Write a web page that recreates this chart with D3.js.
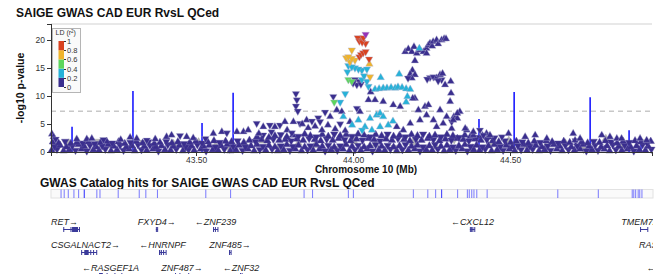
<!DOCTYPE html>
<head>
  <meta charset="utf-8" />
  <script src="https://d3js.org/d3.v7.min.js"></script>
  <style>
    body { margin: 0; background: #fff; }
    svg { font-family: "Liberation Sans", Arial, Helvetica, sans-serif; }
    .axis path, .axis line { stroke: #333; shape-rendering: crispEdges; }
    .axis text { fill: #333; font-size: 8.5px; }
    .legend-axis path { display: none; }
    .legend-axis text { font-size: 7.5px; fill: #333; }
    .gene-label { font-size: 9px; font-style: italic; fill: #222; }
  </style>
</head>
<body>
  <script>
    var width = 663, height = 274;

    // chromosome 10 window (Mb) and axis ticks
    var regionMb = [43.038, 44.952];
    var xTicks = [43.5, 44.0, 44.5];
    var yTicks = [0, 5, 10, 15, 20];
    var yMax = 22.86;
    var sigLine = 7.3; // -log10(5e-8)
    var ldBreaks = [0, 0.2, 0.4, 0.6, 0.8, 1];
    var ldColors = ["#3a2e8e", "#26b2d8", "#5cd65c", "#f0b42a", "#d9411e"];
    var leadPos = 44.040;

    // dense low-signal variants, r2 < 0.2 : [pos Mb, -log10 p, beta sign]
    var bandPts = [
      [43.040,0.3,1],[43.057,0.5,-1],[43.078,0.2,1],[43.096,0.4,1],[43.116,0.3,-1],[43.135,0.5,1],[43.152,0.2,-1],[43.173,0.4,1],[43.191,0.3,1],[43.211,0.5,-1],[43.229,0.2,1],[43.248,0.4,1],[43.269,0.3,-1],[43.287,0.5,1],[43.305,0.2,1],[43.326,0.4,-1],[43.343,0.3,1],[43.363,0.5,1],[43.380,0.2,-1],[43.401,0.4,1],[43.419,0.3,1],[43.437,0.5,-1],[43.458,0.2,1],[43.476,0.4,-1],[43.494,0.3,1],[43.515,0.5,1],[43.532,0.2,-1],[43.553,0.4,1],[43.570,0.3,1],[43.590,0.5,-1],[43.609,0.2,1],[43.627,0.4,1],[43.648,0.3,-1],[43.665,0.5,1],[43.685,0.2,1],[43.703,0.4,-1],[43.722,0.3,1],[43.742,0.5,-1],[43.760,0.2,1],[43.779,0.4,1],[43.799,0.3,-1],[43.816,0.5,1],[43.836,0.2,1],[43.855,0.4,-1],[43.873,0.3,1],[43.893,0.5,1],[43.911,0.2,-1],[43.930,0.4,1],[43.950,0.3,-1],[43.968,0.5,1],[43.988,0.2,1],[44.006,0.4,-1],[44.025,0.3,1],[44.045,0.5,1],[44.062,0.2,-1],[44.082,0.4,1],[44.101,0.3,1],[44.119,0.5,-1],[44.139,0.2,1],[44.157,0.4,-1],[44.176,0.3,1],[44.196,0.5,1],[44.213,0.2,-1],[44.233,0.4,1],[44.252,0.3,1],[44.270,0.5,-1],[44.290,0.2,1],[44.308,0.4,1],[44.327,0.3,-1],[44.347,0.5,1],[44.364,0.2,-1],[44.384,0.4,1],[44.403,0.3,1],[44.421,0.5,-1],[44.441,0.2,1],[44.459,0.4,1],[44.478,0.3,-1],[44.498,0.5,1],[44.515,0.2,1],[44.535,0.4,-1],[44.554,0.3,1],[44.572,0.5,-1],[44.592,0.2,1],[44.610,0.4,1],[44.629,0.3,-1],[44.649,0.5,1],[44.666,0.2,1],[44.686,0.4,-1],[44.705,0.3,1],[44.723,0.5,1],[44.743,0.2,-1],[44.761,0.4,1],[44.780,0.3,-1],[44.800,0.5,1],[44.817,0.2,1],[44.837,0.4,-1],[44.856,0.3,1],[44.874,0.5,1],[44.894,0.2,-1],[44.912,0.4,1],[44.931,0.3,1],[44.950,0.5,-1],
      [43.049,1.0,-1],[43.067,1.2,1],[43.087,0.9,1],[43.106,1.1,-1],[43.125,1.3,1],[43.144,1.0,1],[43.162,1.2,-1],[43.182,0.9,1],[43.201,1.1,-1],[43.220,1.3,1],[43.238,1.0,1],[43.258,1.2,-1],[43.278,0.9,1],[43.296,1.1,1],[43.315,1.3,-1],[43.335,1.0,1],[43.353,1.2,-1],[43.372,0.9,1],[43.390,1.1,1],[43.410,1.3,-1],[43.428,1.0,1],[43.447,1.2,1],[43.467,0.9,-1],[43.485,1.1,1],[43.504,1.3,-1],[43.524,1.0,1],[43.542,1.2,1],[43.562,0.9,-1],[43.580,1.1,1],[43.599,1.3,1],[43.618,1.0,-1],[43.637,1.2,1],[43.657,0.9,-1],[43.675,1.1,1],[43.694,1.3,1],[43.713,1.0,-1],[43.732,1.2,1],[43.751,0.9,1],[43.770,1.1,-1],[43.789,1.3,1],[43.808,1.0,-1],[43.826,1.2,1],[43.846,0.9,1],[43.864,1.1,-1],[43.883,1.3,1],[43.902,1.0,1],[43.921,1.2,-1],[43.940,0.9,1],[43.959,1.1,-1],[43.978,1.3,1],[43.997,1.0,1],[44.016,1.2,-1],[44.035,0.9,1],[44.054,1.1,1],[44.072,1.3,-1],[44.091,1.0,1],[44.110,1.2,-1],[44.129,0.9,1],[44.148,1.1,1],[44.167,1.3,-1],[44.186,1.0,1],[44.205,1.2,1],[44.223,0.9,-1],[44.243,1.1,1],[44.261,1.3,-1],[44.280,1.0,1],[44.299,1.2,1],[44.318,0.9,-1],[44.337,1.1,1],[44.356,1.3,1],[44.374,1.0,-1],[44.393,1.2,1],[44.412,0.9,-1],[44.431,1.1,1],[44.450,1.3,1],[44.469,1.0,-1],[44.488,1.2,1],[44.507,0.9,1],[44.525,1.1,-1],[44.544,1.3,1],[44.563,1.0,-1],[44.582,1.2,1],[44.601,0.9,1],[44.620,1.1,-1],[44.639,1.3,1],[44.658,1.0,1],[44.676,1.2,-1],[44.695,0.9,1],[44.714,1.1,-1],[44.733,1.3,1],[44.752,1.0,1],[44.771,1.2,-1],[44.790,0.9,1],[44.809,1.1,1],[44.827,1.3,-1],[44.846,1.0,1],[44.865,1.2,-1],[44.884,0.9,1],[44.903,1.1,1],[44.922,1.3,-1],[44.940,1.0,1],
      [43.044,1.8,1],[43.062,1.6,1],[43.083,1.9,-1],[43.101,1.5,1],[43.120,1.7,1],[43.139,1.6,-1],[43.157,1.8,1],[43.177,1.5,-1],[43.196,1.7,1],[43.215,1.9,1],[43.233,1.6,-1],[43.253,1.8,1],[43.273,1.5,1],[43.291,1.7,-1],[43.310,1.9,1],[43.330,1.6,1],[43.348,1.8,-1],[43.367,1.5,1],[43.385,1.7,1],[43.405,1.9,-1],[43.423,1.6,1],[43.442,1.8,1],[43.462,1.5,-1],[43.480,1.7,1],[43.499,1.9,1],[43.519,1.6,-1],[43.537,1.8,1],[43.557,2.0,1],[43.575,1.7,-1],[43.594,1.9,1],[43.613,1.8,1],[43.632,2.0,-1],[43.652,1.7,1],[43.670,2.1,1],[43.689,1.9,-1],[43.708,2.2,1],[43.727,2.0,1],[43.746,2.3,-1],[43.765,2.1,1],[43.784,2.2,1],[43.803,2.0,-1],[43.821,2.3,1],[43.841,2.1,1],[43.860,2.4,-1],[43.878,2.2,1],[43.897,2.0,1],[43.916,2.3,-1],[43.935,2.1,1],[43.954,2.4,1],[43.973,2.2,-1],[43.992,2.0,1],[44.011,2.3,1],[44.030,2.1,-1],[44.049,2.4,1],[44.067,2.2,1],[44.086,2.0,-1],[44.105,2.3,1],[44.124,2.1,1],[44.143,2.4,-1],[44.162,2.2,1],[44.181,2.0,1],[44.200,2.3,-1],[44.218,2.1,1],[44.238,2.4,1],[44.256,2.2,-1],[44.275,2.0,1],[44.294,2.3,1],[44.313,2.1,-1],[44.332,2.4,1],[44.351,2.2,1],[44.369,2.0,-1],[44.388,2.3,1],[44.407,2.1,1],[44.426,2.2,-1],[44.445,2.0,1],[44.464,1.8,1],[44.483,2.0,-1],[44.502,1.7,1],[44.520,1.9,1],[44.539,1.8,-1],[44.558,1.6,1],[44.577,1.9,1],[44.596,1.7,-1],[44.615,2.0,1],[44.634,1.8,1],[44.653,1.6,-1],[44.671,1.9,1],[44.690,1.7,1],[44.709,2.0,-1],[44.728,1.8,1],[44.747,1.6,1],[44.766,1.9,-1],[44.785,1.7,1],[44.804,2.0,1],[44.822,1.8,-1],[44.841,1.6,1],[44.860,1.9,1],[44.879,1.7,-1],[44.898,2.0,1],[44.917,1.8,1],[44.936,1.6,-1],[44.948,1.9,1],
      [43.694,2.7,1],[43.713,3.0,-1],[43.732,2.6,1],[43.751,2.9,1],[43.770,3.1,-1],[43.789,2.7,1],[43.808,3.0,1],[43.826,2.8,-1],[43.846,3.2,1],[43.864,2.9,1],[43.883,2.7,-1],[43.902,3.1,1],[43.921,2.8,1],[43.940,3.2,-1],[43.959,2.9,1],[43.978,3.1,1],[43.997,2.8,-1],[44.016,3.2,1],[44.035,3.0,1],[44.054,2.7,-1],[44.072,3.1,1],[44.091,2.9,1],[44.110,3.2,-1],[44.129,2.8,1],[44.148,3.0,1],[44.167,2.7,-1],[44.186,3.1,1],[44.205,2.9,1],[44.223,3.2,-1],[44.243,2.8,1],[44.261,3.0,1],[44.280,2.7,-1],[44.299,3.1,1],[44.318,2.9,1],[44.337,2.6,-1],[44.356,3.0,1],[44.374,2.8,1],[44.393,2.6,-1],[44.412,2.9,1],[44.431,2.7,1],[44.450,2.5,-1]
    ];

    // variants without LD information : [pos, -log10 p, beta sign]
    var noLdPts = [
      [43.052,1.4,1],[43.060,0.9,-1],[43.095,1.6,1],[43.141,0.8,1],[43.188,1.9,-1],[43.232,1.2,1],[43.276,0.6,1],[43.331,1.7,-1],[43.371,1.0,1],[43.428,1.5,1],[43.466,0.7,-1],[43.508,1.8,1],[43.562,1.1,1],[43.607,0.5,-1],[43.655,1.4,1],[43.712,2.0,1],[43.768,0.9,-1],[43.826,1.6,1],[43.879,1.2,1],[43.941,0.6,-1],[44.003,1.9,1],[44.071,1.3,1],[44.132,0.8,-1],[44.190,1.7,1],[44.262,1.0,1],[44.322,2.2,-1],[44.381,0.7,1],[44.440,1.5,1],[44.496,2.1,1],[44.551,1.2,-1],[44.613,0.9,1],[44.676,1.6,1],[44.734,0.5,-1],[44.805,2.4,1],[44.858,1.1,1],[44.921,1.8,-1]
    ];

    // remaining variants : [pos, -log10 p, r2 with lead, beta sign]
    var assocPts = [
      // scattered tops, left side
      [43.041,3.2,0.1,1],[43.046,2.7,0.1,1],[43.053,2.3,0.1,-1],[43.120,2.3,0.1,1],[43.152,2.3,0.1,1],[43.168,2.4,0.1,1],[43.205,2.2,0.1,-1],[43.260,2.2,0.1,1],[43.290,2.6,0.1,1],[43.311,2.4,0.1,1],[43.343,2.1,0.1,-1],[43.370,2.3,0.1,1],[43.406,2.7,0.1,1],[43.422,3.0,0.1,1],[43.449,2.9,0.1,-1],[43.470,2.7,0.1,1],[43.491,2.5,0.1,1],[43.530,2.4,0.1,-1],[43.555,3.3,0.1,1],[43.582,3.6,0.1,1],[43.598,3.4,0.1,-1],[43.630,3.6,0.1,1],[43.651,3.6,0.1,1],[43.666,3.9,0.1,1],[43.693,5.1,0.1,-1],[43.714,4.5,0.1,1],[43.735,4.8,0.1,-1],[43.751,4.5,0.1,1],[43.767,4.8,0.1,-1],[43.783,5.4,0.1,1],[43.810,5.4,0.1,1],[43.831,5.1,0.1,-1],[43.852,5.7,0.1,1],[43.700,3.3,0.1,1],[43.740,3.6,0.1,-1],[43.790,3.9,0.1,1],[43.805,3.4,0.1,-1],
      [43.818,10.4,0.1,-1],[43.821,9.3,0.1,-1],[43.818,8.2,0.1,-1],[43.824,7.3,0.1,-1],
      // around the peak, r2 < 0.2
      [44.049,9.3,0.1,1],[44.070,9.3,0.1,1],[44.096,9.0,0.1,1],[44.128,8.4,0.1,1],[44.150,8.1,0.1,1],[44.197,9.6,0.1,1],[44.208,7.5,0.1,1],[44.229,8.1,0.1,1],[44.240,8.4,0.1,1],[44.277,7.5,0.1,1],[44.298,6.3,0.1,1],[43.927,6.3,0.1,1],[43.948,7.5,0.1,1],[43.964,7.2,0.1,1],[43.990,5.4,0.1,1],[44.012,7.8,0.1,-1],[44.022,7.2,0.1,1],[44.139,4.5,0.1,1],[44.160,3.9,0.1,1],[44.182,5.1,0.1,1],[44.213,5.7,0.1,1],[44.234,6.6,0.1,1],[44.256,5.7,0.1,1],[44.266,4.5,0.1,1],[44.287,5.1,0.1,1],[44.314,4.2,0.1,1],[44.362,3.9,0.1,1],[44.383,3.0,0.1,1],[44.425,3.3,0.1,1],[44.436,3.0,0.1,1],[43.911,7.1,0.1,-1],[43.889,6.1,0.1,-1],[43.869,5.5,0.1,-1],[43.838,5.0,0.1,1],[43.857,4.3,0.1,1],[43.879,4.6,0.1,1],[43.901,3.9,0.1,1],[43.920,4.8,0.1,1],[43.943,4.1,0.1,1],[43.959,5.0,0.1,-1],[43.975,3.8,0.1,1],[43.895,5.4,0.1,-1],
      [44.006,12.9,0.1,-1],[44.020,12.6,0.1,-1],[44.012,12.0,0.1,-1],[44.025,12.1,0.1,-1],[44.000,12.3,0.1,-1],[44.056,10.7,0.1,1],[43.937,9.9,0.1,-1],[44.190,9.6,0.1,1],
      [44.166,17.9,0.1,1],[44.176,18.4,0.1,1],[44.187,17.9,0.1,1],[44.194,18.8,0.1,1],[44.203,17.6,0.1,1],[44.213,18.2,0.1,1],[44.224,17.9,0.1,1],[44.234,18.5,0.1,1],[44.234,17.6,0.1,1],[44.240,19.1,0.1,1],[44.245,19.4,0.1,1],[44.252,18.9,0.1,1],[44.255,19.7,0.1,1],[44.266,20.0,0.1,1],[44.271,19.3,0.1,1],[44.282,20.0,0.1,1],[44.290,20.2,0.1,1],[44.296,20.2,0.1,1],[44.197,16.3,0.1,1],
      [44.189,14.6,0.1,1],[44.182,13.9,0.1,1],[44.197,13.8,0.1,1],[44.187,13.2,0.1,1],[44.175,13.2,0.1,-1],
      [44.245,13.3,0.1,-1],[44.256,13.4,0.1,-1],[44.266,13.2,0.1,1],[44.277,13.8,0.1,1],[44.285,14.0,0.1,1],[44.282,12.9,0.1,-1],[44.293,12.0,0.1,1],[44.311,12.6,0.1,1],[44.271,12.7,0.1,-1],[44.236,13.0,0.1,-1],
      [44.312,10.5,0.1,1],[44.309,9.0,0.1,1],[44.321,6.3,0.1,1],[44.332,6.0,0.1,1],[44.340,7.2,0.1,1],[44.314,5.4,0.1,-1],[44.357,4.2,0.1,1],[44.383,3.6,0.1,1],[44.332,6.9,0.1,1],[44.319,5.7,0.1,1],
      // right side
      [44.415,3.0,0.1,-1],[44.474,2.7,0.1,-1],[44.495,3.3,0.1,1],[44.548,2.7,0.1,1],[44.580,3.0,0.1,1],[44.617,2.4,0.1,1],[44.701,3.3,0.1,1],[44.707,2.1,0.1,1],[44.723,2.4,0.1,1],[44.792,3.0,0.1,1],[44.818,2.7,0.1,1],[44.840,2.4,0.1,1],[44.855,2.4,0.1,1],[44.914,2.4,0.1,1],[44.935,2.1,0.1,1],[44.404,3.9,0.1,-1],
      // 0.2 - 0.4
      [43.985,15.4,0.3,-1],[43.996,15.2,0.32,-1],[43.982,14.3,0.3,-1],[44.017,14.8,0.3,-1],[44.028,14.6,0.28,-1],[44.044,14.8,0.3,-1],[44.006,15.0,0.3,-1],[44.028,12.9,0.3,-1],[44.044,12.6,0.28,-1],[44.049,11.7,0.25,-1],[44.035,13.6,0.3,-1],
      [44.070,11.2,0.3,1],[44.083,11.3,0.3,1],[44.096,11.4,0.3,1],[44.108,11.4,0.3,1],[44.121,11.5,0.3,1],[44.134,11.4,0.3,1],[44.143,11.6,0.3,1],[44.156,11.5,0.3,1],[44.169,11.3,0.3,1],[44.182,11.2,0.3,1],
      [43.975,10.4,0.3,-1],[43.959,8.9,0.3,-1],[44.173,9.9,0.3,1],[44.169,8.9,0.3,1],[44.088,13.3,0.3,1],[44.147,13.9,0.3,1],[44.211,18.5,0.3,1],
      [43.969,6.3,0.3,1],[44.054,6.0,0.3,1],[44.075,6.6,0.3,1],[44.086,6.9,0.3,1],[44.096,6.3,0.3,1],[44.017,5.7,0.3,1],[44.038,4.5,0.3,1],[44.060,3.9,0.3,1],[44.086,4.5,0.3,1],[44.112,4.8,0.3,1],[43.997,4.8,0.3,1],[44.127,5.5,0.3,1],[44.029,3.9,0.3,-1],
      // 0.4 - 0.6
      [43.985,12.9,0.5,-1],[43.996,12.6,0.5,-1],[43.940,8.9,0.5,-1],
      // 0.6 - 0.8
      [43.996,18.2,0.7,-1],[43.985,17.0,0.72,-1],[43.996,16.7,0.7,-1],[44.006,16.4,0.68,-1],[43.990,16.1,0.66,-1],[43.978,16.8,0.7,-1],[44.052,15.7,0.7,1],[44.054,13.4,0.65,-1],
      // 0.8 - 1
      [44.015,20.4,0.9,-1],[44.025,20.2,0.88,-1],[44.033,20.4,0.92,-1],[44.020,19.8,0.9,-1],[44.040,19.4,0.86,-1],[44.029,19.6,0.9,-1],[44.025,17.4,0.85,-1],[44.040,17.9,0.87,-1],[44.020,17.0,0.84,-1],[44.032,17.7,0.86,-1],[44.051,16.6,0.82,-1],
      // lead variant
      [44.040,21.0,1.0,-1]
    ];

    // GWAS catalog hits drawn in the association panel : position, -log10 p
    var catHitPos = [43.105, 43.299, 43.519, 43.618, 44.401, 44.513, 44.755, 44.879, 44.917];
    var catHitP = [4.5, 10.9, 5.2, 10.6, 5.9, 10.7, 9.8, 3.9, 2.5];

    // GWAS catalog track positions (Mb)
    var catalogPos = [43.070, 43.080, 43.093, 43.111, 43.126, 43.144, 43.144, 43.184, 43.194, 43.252, 43.319, 43.340, 43.377,
      43.531, 43.610, 43.844, 43.871, 43.985, 44.001, 44.192, 44.238, 44.263, 44.282, 44.282, 44.333, 44.364, 44.370,
      44.378, 44.385, 44.394, 44.427, 44.652, 44.781, 44.889, 44.894, 44.900, 44.908, 44.913, 44.920];

    // genes : [name, strand, start, end, exons]
    var genes = [
      ["RET", 1, 43.077, 43.130, [[43.077,43.078],[43.100,43.102],[43.105,43.124],[43.127,43.130]]],
      ["CSGALNACT2", 1, 43.134, 43.184, [[43.134,43.136],[43.144,43.158],[43.163,43.165],[43.172,43.174],[43.182,43.184]]],
      ["RASGEF1A", -1, 43.191, 43.264, [[43.191,43.203],[43.215,43.216],[43.240,43.241],[43.262,43.264]]],
      ["FXYD4", 1, 43.372, 43.378, [[43.372,43.374],[43.376,43.378]]],
      ["HNRNPF", -1, 43.382, 43.404, [[43.382,43.386],[43.388,43.391],[43.395,43.396],[43.403,43.404]]],
      ["ZNF487", 1, 43.433, 43.477, [[43.433,43.434],[43.447,43.448],[43.475,43.477]]],
      ["ZNF239", -1, 43.554, 43.570, [[43.554,43.556],[43.560,43.561],[43.568,43.570]]],
      ["ZNF485", 1, 43.605, 43.611, [[43.605,43.606],[43.610,43.611]]],
      ["ZNF32", -1, 43.640, 43.646, [[43.640,43.643],[43.645,43.646]]],
      ["CXCL12", -1, 44.372, 44.388, [[44.372,44.374],[44.376,44.378],[44.380,44.381],[44.386,44.388]]],
      ["TMEM72", 1, 44.914, 44.939, [[44.914,44.916],[44.937,44.939]]],
      ["RASSF4", 1, 44.972, 44.990, [[44.972,44.974],[44.988,44.990]]],
      ["ZNF22", -1, 44.990, 44.996, [[44.990,44.993],[44.995,44.996]]]
    ];

    var svg = d3.select("body").append("svg")
      .attr("width", width)
      .attr("height", height);

    var x = d3.scaleLinear().domain(regionMb).range([51, 652]);
    var y = d3.scaleLinear().domain([0, yMax]).range([152, 24]);
    var ldColor = d3.scaleThreshold().domain([0.2, 0.4, 0.6, 0.8]).range(ldColors);

    // titles
    svg.append("text").attr("x", 16).attr("y", 17)
      .style("font-size", "12px").style("font-weight", "bold").style("fill", "#111")
      .text("SAIGE GWAS CAD EUR RvsL QCed");

    // panel top border
    svg.append("line").attr("x1", 51).attr("x2", 652).attr("y1", 24).attr("y2", 24)
      .attr("stroke", "#e8e8e8").attr("stroke-width", 2);

    // significance line
    svg.append("line").attr("x1", 51).attr("x2", 652)
      .attr("y1", y(sigLine)).attr("y2", y(sigLine))
      .attr("stroke", "#c8c8c8").attr("stroke-width", 1.5).attr("stroke-dasharray", "5,4");

    var plot = svg.append("g");

    // catalog hit lines
    plot.selectAll(".cat-hit").data(catHitPos).enter().append("line")
      .attr("class", "cat-hit")
      .attr("x1", d => x(d)).attr("x2", d => x(d))
      .attr("y1", y(0)).attr("y2", (d, i) => y(catHitP[i]))
      .attr("stroke", "#1a1aff").attr("stroke-width", 1.6);

    var tri = d3.symbol().type(d3.symbolTriangle).size(24);
    function drawPts(data, fill, stroke) {
      plot.append("g").selectAll("path").data(data).enter().append("path")
        .attr("d", tri)
        .attr("transform", d => "translate(" + x(d[0]) + "," + y(d[1]) + ")" + (d[d.length - 1] < 0 ? " rotate(180)" : ""))
        .attr("fill", fill)
        .attr("stroke", stroke)
        .attr("stroke-width", 0.4);
    }
    drawPts(noLdPts, "#b8b8b8", "#999");
    drawPts(bandPts, ldColors[0], "#5a52a0");
    var sorted = assocPts.slice().sort((a, b) => a[2] - b[2]);
    drawPts(sorted, d => (d[0] === leadPos && d[2] === 1) ? "#9632b8" : ldColor(d[2]), "#b4b2d2");

    // axes
    svg.append("g").attr("class", "axis")
      .attr("transform", "translate(51,0)")
      .call(d3.axisLeft(y).tickValues(yTicks).tickSize(4).tickPadding(2));

    svg.append("g").attr("class", "axis")
      .attr("transform", "translate(0,152)")
      .call(d3.axisBottom(x).tickValues(xTicks).tickFormat(d3.format(".2f")).tickSize(4).tickPadding(1));

    svg.append("text").attr("x", 366).attr("y", 173).attr("text-anchor", "middle")
      .style("font-size", "10px").style("font-weight", "bold").style("fill", "#111")
      .text("Chromosome 10 (Mb)");

    svg.append("text").attr("transform", "translate(24,88) rotate(-90)")
      .attr("text-anchor", "middle")
      .style("font-size", "10.5px").style("font-weight", "bold").style("fill", "#111")
      .text("-log10 p-value");

    // LD legend
    var lg = svg.append("g");
    lg.append("rect").attr("x", 52.5).attr("y", 28.5).attr("width", 28).attr("height", 64)
      .attr("fill", "#fafafa").attr("stroke", "#b5b5b5");
    lg.append("text").attr("x", 55.5).attr("y", 35).style("font-size", "7px").style("fill", "#333")
      .html("LD (r<tspan dy='-2.5' font-size='4.5px'>2</tspan><tspan dy='2.5'>)</tspan>");
    var ldY = d3.scaleLinear().domain([0, 1]).range([87, 41]);
    lg.selectAll(".ldbox").data(ldColors).enter().append("rect")
      .attr("x", 58.5).attr("width", 5.5)
      .attr("y", (d, i) => ldY(ldBreaks[i + 1]))
      .attr("height", (d, i) => ldY(ldBreaks[i]) - ldY(ldBreaks[i + 1]))
      .attr("fill", d => d);
    lg.append("g").attr("class", "axis legend-axis").attr("transform", "translate(64,0)")
      .call(d3.axisRight(ldY).tickValues(ldBreaks).tickFormat(d3.format("")).tickSize(2).tickPadding(1));

    // GWAS catalog track
    svg.append("text").attr("x", 40).attr("y", 187)
      .style("font-size", "12px").style("font-weight", "bold").style("fill", "#111")
      .text("GWAS Catalog hits for SAIGE GWAS CAD EUR RvsL QCed");
    svg.append("rect").attr("x", 51).attr("y", 189.5).attr("width", 602).attr("height", 8.5)
      .attr("fill", "#fafafa").attr("stroke", "#e2e2e2");
    svg.append("g").selectAll("line").data(catalogPos).enter().append("line")
      .attr("x1", d => x(d)).attr("x2", d => x(d))
      .attr("y1", 189.5).attr("y2", 198)
      .attr("stroke", "#2323ff").attr("stroke-opacity", 0.6).attr("stroke-width", 1);

    // genes
    var defs = svg.append("defs");
    defs.append("clipPath").attr("id", "geneClip").append("rect")
      .attr("x", 40).attr("y", 205).attr("width", 613).attr("height", 80);
    var geneG = svg.append("g").attr("clip-path", "url(#geneClip)");
    var fs = 9, x0 = 51, rowBase = 225, rowStep = 23, geneColor = "#3a3a9a";
    var trackEnds = [];
    genes.forEach(function (gn) {
      var label = gn[1] > 0 ? gn[0] + "\u2192" : "\u2190" + gn[0];
      var t = geneG.append("text").attr("class", "gene-label").text(label);
      var lw = t.node().getComputedTextLength();
      var ds = x(gn[2]), de = x(gn[3]), w = de - ds;
      var anchor = "middle", lx = (ds + de) / 2, bs = ds - fs, be = de + fs;
      if (w < lw) {
        var m = (lw - w) / 2 + fs;
        if (ds - m < x0) { anchor = "start"; lx = x0; bs = x0; be = x0 + lw + fs; }
        else { bs = ds - m; be = de + m; }
      }
      var tr = 0;
      while (trackEnds[tr] !== undefined && trackEnds[tr] > bs) tr++;
      trackEnds[tr] = be;
      var base = rowBase + tr * rowStep, cy = base + 4.5;
      t.attr("x", lx).attr("y", base).attr("text-anchor", anchor);
      geneG.append("line").attr("x1", ds).attr("x2", de).attr("y1", cy).attr("y2", cy)
        .attr("stroke", geneColor).attr("stroke-width", 1);
      geneG.selectAll(null).data(gn[4]).enter().append("rect")
        .attr("x", e => x(e[0]))
        .attr("width", e => Math.max(1, x(e[1]) - x(e[0])))
        .attr("y", cy - 2.5).attr("height", 5)
        .attr("fill", geneColor);
    });
  </script>
</body>
